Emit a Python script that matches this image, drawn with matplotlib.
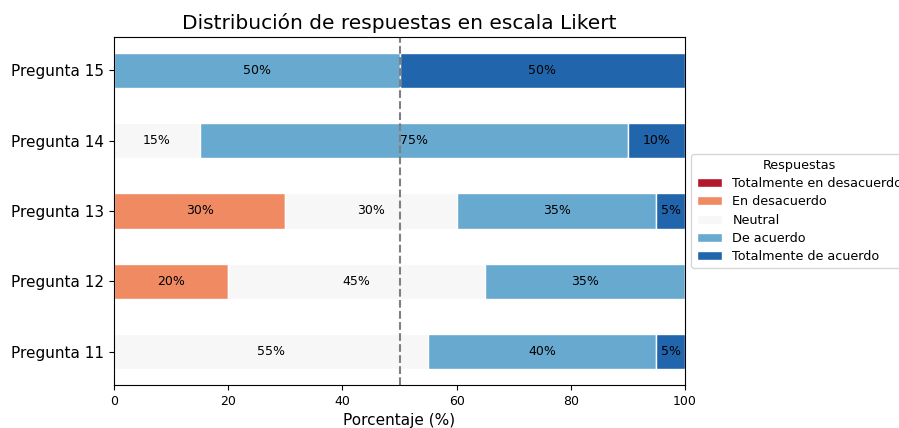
import matplotlib
matplotlib.use("Agg")
import matplotlib.pyplot as plt
import numpy as np

# Data (percentages per response level)
preguntas = ['Pregunta 11', 'Pregunta 12', 'Pregunta 13', 'Pregunta 14', 'Pregunta 15']
respuestas = ['Totalmente en desacuerdo', 'En desacuerdo', 'Neutral',
              'De acuerdo', 'Totalmente de acuerdo']
tot_desacuerdo = [0, 0, 0, 0, 0]
desacuerdo = [0, 20, 30, 0, 0]
neutral = [55, 45, 30, 15, 0]
acuerdo = [40, 35, 35, 75, 50]
tot_acuerdo = [5, 0, 5, 10, 50]

colores = ['#b2182b', '#ef8a62', '#f7f7f7', '#67a9cf', '#2166ac']

series = [tot_desacuerdo, desacuerdo, neutral, acuerdo, tot_acuerdo]

fig = plt.figure(figsize=(8.99, 4.28), dpi=100)
ax = fig.add_axes([0.1268, 0.1005, 0.6352, 0.8131])

y = np.arange(len(preguntas))
left = np.zeros(len(preguntas))
for vals, nombre, color in zip(series, respuestas, colores):
    vals = np.array(vals, dtype=float)
    ax.barh(y, vals, left=left, height=0.5, color=color, edgecolor='white',
            label=nombre)
    for yi, (l, v) in enumerate(zip(left, vals)):
        if v > 0:
            ax.text(l + v / 2, yi, f'{int(v)}%', ha='center', va='center',
                    fontsize=9, color='black')
    left += vals

ax.axvline(50, color='gray', linestyle='--', linewidth=1.5)
ax.set_xlim(0, 100)
ax.set_yticks(y)
ax.set_yticklabels(preguntas, fontsize=11)
ax.tick_params(axis='x', labelsize=9)
ax.set_xlabel('Porcentaje (%)', fontsize=11)
ax.set_title('Distribución de respuestas en escala Likert', fontsize=14.5)
ax.legend(title='Respuestas', loc='center left', bbox_to_anchor=(1.0, 0.5),
          fontsize=9.2, title_fontsize=9.2, labelspacing=0.4)

plt.savefig('out.png', dpi=100)
